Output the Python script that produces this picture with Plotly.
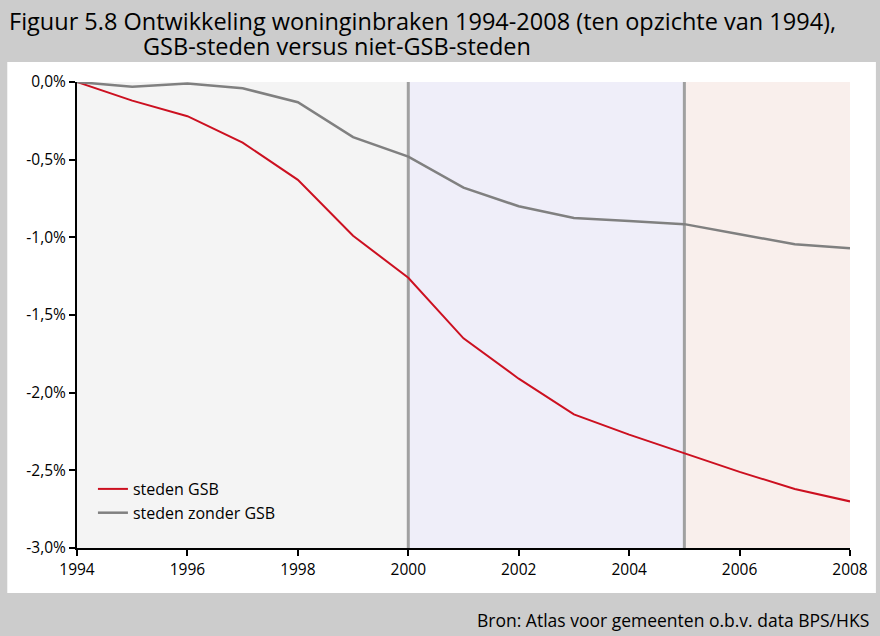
import plotly.graph_objects as go

years = [1994, 1995, 1996, 1997, 1998, 1999, 2000, 2001, 2002, 2003, 2004, 2005, 2006, 2007, 2008]
gsb = [0.0, -0.12, -0.22, -0.39, -0.63, -0.99, -1.26, -1.65, -1.91, -2.14, -2.27, -2.39, -2.51, -2.62, -2.70]
zonder_gsb = [0.0, -0.03, -0.01, -0.04, -0.13, -0.355, -0.48, -0.68, -0.80, -0.875, -0.895, -0.915, -0.98, -1.045, -1.07]

y_ticks = [0.0, -0.5, -1.0, -1.5, -2.0, -2.5, -3.0]
y_labels = ["0,0%", "-0,5%", "-1,0%", "-1,5%", "-2,0%", "-2,5%", "-3,0%"]
x_ticks = [1994, 1996, 1998, 2000, 2002, 2004, 2006, 2008]
periods = [(1994, 2000, "#f4f4f4"), (2000, 2005, "#efeef9"), (2005, 2008, "#f9efec")]
markers = [2000, 2005]

FONT = "Open Sans"

fig = go.Figure()
fig.add_trace(go.Scatter(x=years, y=gsb, mode="lines", name="steden GSB",
                         line=dict(color="#cc1020", width=2)))
fig.add_trace(go.Scatter(x=years, y=zonder_gsb, mode="lines", name="steden zonder GSB",
                         line=dict(color="#808080", width=2.5)))

shapes = [dict(type="rect", xref="paper", yref="paper", x0=-70/776, x1=802/776,
               y0=-45/466, y1=486/466, fillcolor="white", line=dict(width=0), layer="below")]
for a, b, c in periods:
    shapes.append(dict(type="rect", xref="x", yref="y", x0=a, x1=b, y0=-3, y1=0,
                       fillcolor=c, line=dict(width=0), layer="below"))
for m in markers:
    shapes.append(dict(type="line", xref="x", yref="y", x0=m, x1=m, y0=-3, y1=0,
                       line=dict(color="#a0a0a0", width=3), layer="below"))

fig.update_layout(
    width=880, height=636,
    margin=dict(l=77, r=27, t=82, b=88),
    paper_bgcolor="#cccccc",
    plot_bgcolor="rgba(0,0,0,0)",
    font=dict(family=FONT, color="black", size=15.5),
    shapes=shapes,
    showlegend=True,
    legend=dict(x=16/776, y=76/466, xanchor="left", yanchor="top",
                bgcolor="rgba(0,0,0,0)", font=dict(size=16, family=FONT),
                tracegroupgap=0, itemwidth=30),
    xaxis=dict(range=[1994, 2008], tickvals=x_ticks, ticks="outside", ticklen=6,
               tickwidth=2, tickcolor="black", showline=True, linecolor="black",
               linewidth=2, showgrid=False, zeroline=False, tickfont=dict(size=15.5)),
    yaxis=dict(range=[-3, 0], tickvals=y_ticks, ticktext=y_labels, ticks="outside",
               ticklen=6, tickwidth=2, tickcolor="black", showline=True,
               linecolor="black", linewidth=2, showgrid=False, zeroline=False,
               tickfont=dict(size=15.5)),
    annotations=[
        dict(xref="paper", yref="paper", x=-70/776, y=1 + 61/466, xanchor="left", yanchor="middle",
             text="Figuur 5.8 Ontwikkeling woninginbraken 1994-2008 (ten opzichte van 1994),",
             showarrow=False, font=dict(size=23.5, family=FONT)),
        dict(xref="paper", yref="paper", x=64/776, y=1 + 36/466, xanchor="left", yanchor="middle",
             text="GSB-steden versus niet-GSB-steden",
             showarrow=False, font=dict(size=23.5, family=FONT)),
        dict(xref="paper", yref="paper", x=797/776, y=-72/466, xanchor="right", yanchor="middle",
             text="Bron: Atlas voor gemeenten o.b.v. data BPS/HKS",
             showarrow=False, font=dict(size=17.5, family=FONT)),
    ],
)

fig.write_html("out.html", config={"displayModeBar": False},
               post_script="document.body.style.margin='0px';")
